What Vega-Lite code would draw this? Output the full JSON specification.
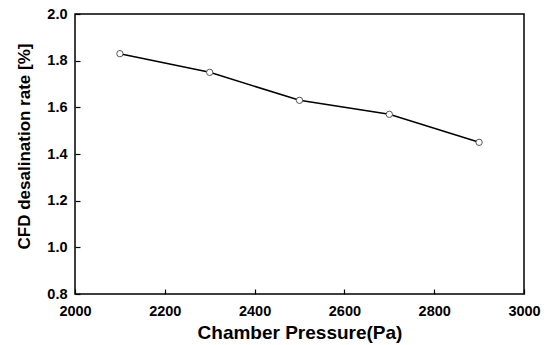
{
  "$schema": "https://vega.github.io/schema/vega-lite/v6.json",
  "width": 449,
  "height": 280,
  "autosize": "none",
  "padding": {"left": 75, "top": 14, "right": 25, "bottom": 51},
  "background": "white",
  "config": {
    "view": {"stroke": "black", "strokeWidth": 1.5},
    "font": "Liberation Sans",
    "axis": {
      "grid": false,
      "domain": false,
      "tickColor": "black",
      "tickSize": -5,
      "tickWidth": 1.2,
      "labelFont": "Liberation Sans",
      "labelFontWeight": "bold",
      "labelFontSize": 14.5,
      "labelColor": "black",
      "titleFont": "Liberation Sans",
      "titleFontWeight": "bold",
      "titleColor": "black"
    }
  },
  "data": {
    "values": [
      {"pressure": 2100, "rate": 1.83},
      {"pressure": 2300, "rate": 1.75},
      {"pressure": 2500, "rate": 1.63},
      {"pressure": 2700, "rate": 1.57},
      {"pressure": 2900, "rate": 1.45}
    ]
  },
  "encoding": {
    "x": {
      "field": "pressure",
      "type": "quantitative",
      "scale": {"domain": [2000, 3000], "nice": false},
      "axis": {"values": [2000, 2200, 2400, 2600, 2800, 3000], "format": "d", "title": "Chamber Pressure(Pa)", "titleFontSize": 19, "labelPadding": 15, "titleY": 38, "titleBaseline": "middle", "labelFlush": false}
    },
    "y": {
      "field": "rate",
      "type": "quantitative",
      "scale": {"domain": [0.8, 2.0], "nice": false, "zero": false},
      "axis": {"values": [0.8, 1.0, 1.2, 1.4, 1.6, 1.8, 2.0], "format": ".1f", "title": "CFD desalination rate [%]", "titleFontSize": 17, "labelPadding": 13, "titleX": -51, "titleY": 132, "titleAngle": -90, "titleAlign": "center", "titleBaseline": "middle", "labelFlush": false}
    }
  },
  "layer": [
    {"mark": {"type": "line", "color": "black", "strokeWidth": 1.5}},
    {"mark": {"type": "point", "shape": "circle", "filled": true, "fill": "white", "stroke": "#555555", "strokeWidth": 1, "size": 40, "opacity": 1}}
  ]
}
